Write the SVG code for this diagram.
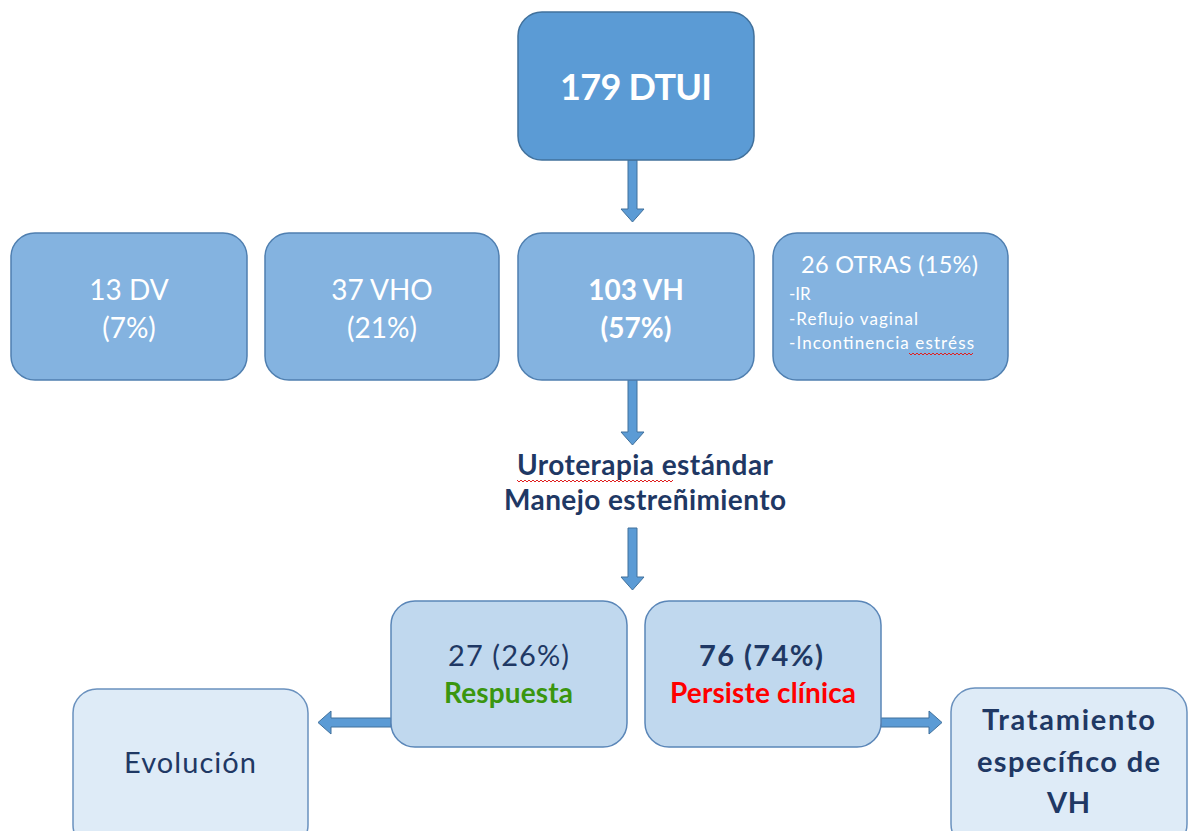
<svg xmlns="http://www.w3.org/2000/svg" width="1190" height="831" viewBox="0 0 1190 831">
<defs>
<style>
text{font-family:Lato,"Open Sans","Liberation Sans",sans-serif;text-anchor:middle}
.top{fill:#5B9BD5;stroke:#41719C;stroke-width:1.5}
.mid{fill:#84B3E0;stroke:#4F7FB0;stroke-width:1.5}
.low{fill:#C0D8EE;stroke:#5A86B8;stroke-width:1.5}
.end{fill:#DEEBF7;stroke:#6A91BE;stroke-width:1.5}
.arrow{fill:#5B9BD5;stroke:#41719C;stroke-width:1}
.w{fill:#FFFFFF}
.navy{fill:#1F3864}
.l{text-anchor:start}
.sq{fill:none;stroke:#E02020;stroke-width:1}
</style>
</defs>
<g id="connectors">
<path class="arrow" d="M628,160 L637,160 L637,209 L644,209 L632.5,222 L621,209 L628,209 Z"/>
<path class="arrow" d="M628,380 L637,380 L637,432 L644,432 L632.5,445 L621,432 L628,432 Z"/>
<path class="arrow" d="M628,528 L637,528 L637,577 L644,577 L632.5,590 L621,577 L628,577 Z"/>
<path class="arrow" d="M391,718 L331,718 L331,711 L318,722.5 L331,734 L331,727 L391,727 Z"/>
<path class="arrow" d="M881,718 L929,718 L929,711 L942,722.5 L929,734 L929,727 L881,727 Z"/>
</g>
<g id="n179">
<rect class="top" x="518" y="12" width="236" height="148" rx="24"/>
<text x="636" y="100" class="w" font-size="36" font-weight="bold" textLength="152">179 DTUI</text>
</g>
<g id="n13dv">
<rect class="mid" x="11" y="233" width="236" height="147" rx="24"/>
<text x="129" y="300" class="w" font-size="28">13 DV</text>
<text x="129" y="338" class="w" font-size="28">(7%)</text>
</g>
<g id="n37vho">
<rect class="mid" x="265" y="233" width="234" height="147" rx="24"/>
<text x="382" y="300" class="w" font-size="28">37 VHO</text>
<text x="382" y="338" class="w" font-size="28">(21%)</text>
</g>
<g id="n103vh">
<rect class="mid" x="518" y="233" width="236" height="147" rx="24"/>
<text x="636" y="300" class="w" font-size="28" font-weight="bold">103 VH</text>
<text x="636" y="338" class="w" font-size="28" font-weight="bold">(57%)</text>
</g>
<g id="n26otras">
<rect class="mid" x="773" y="233" width="235" height="147" rx="24"/>
<text x="889.5" y="273" class="w" font-size="23.5" textLength="177">26 OTRAS (15%)</text>
<text x="789" y="300" class="w l" font-size="17">-IR</text>
<text x="789" y="325" class="w l" font-size="17" textLength="129">-Reflujo vaginal</text>
<text x="789" y="349" class="w l" font-size="17" textLength="185">-Incontinencia estréss</text>
<path class="sq" d="M909,353 l2,2 l2,-2 l2,2 l2,-2 l2,2 l2,-2 l2,2 l2,-2 l2,2 l2,-2 l2,2 l2,-2 l2,2 l2,-2 l2,2 l2,-2 l2,2 l2,-2 l2,2 l2,-2 l2,2 l2,-2 l2,2 l2,-2 l2,2 l2,-2 l2,2 l2,-2 l2,2 l2,-2 l2,2 l2,-2"/>
</g>
<g id="uroterapia">
<text x="645" y="475" class="navy" font-size="28" font-weight="bold" textLength="256">Uroterapia estándar</text>
<text x="645" y="510" class="navy" font-size="28" font-weight="bold" textLength="282">Manejo estreñimiento</text>
<path class="sq" d="M517,480 l2,2 l2,-2 l2,2 l2,-2 l2,2 l2,-2 l2,2 l2,-2 l2,2 l2,-2 l2,2 l2,-2 l2,2 l2,-2 l2,2 l2,-2 l2,2 l2,-2 l2,2 l2,-2 l2,2 l2,-2 l2,2 l2,-2 l2,2 l2,-2 l2,2 l2,-2 l2,2 l2,-2 l2,2 l2,-2 l2,2 l2,-2 l2,2 l2,-2 l2,2 l2,-2 l2,2 l2,-2 l2,2 l2,-2 l2,2 l2,-2 l2,2 l2,-2 l2,2 l2,-2 l2,2 l2,-2 l2,2 l2,-2 l2,2 l2,-2 l2,2 l2,-2 l2,2 l2,-2 l2,2 l2,-2 l2,2 l2,-2 l2,2 l2,-2 l2,2 l2,-2 l2,2 l2,-2 l2,2 l2,-2 l2,2 l2,-2 l2,2 l2,-2 l2,2 l2,-2 l2,2 l2,-2"/>
</g>
<g id="n27">
<rect class="low" x="391" y="601" width="236" height="146" rx="24"/>
<text x="508.5" y="666" class="navy" font-size="29" textLength="121">27 (26%)</text>
<text x="508.5" y="703" fill="#3A960F" font-size="28" font-weight="bold" textLength="129">Respuesta</text>
</g>
<g id="n76">
<rect class="low" x="645" y="601" width="236" height="146" rx="24"/>
<text x="761" y="666" class="navy" font-size="29" font-weight="bold" textLength="124">76 (74%)</text>
<text x="763" y="703" fill="#FF0000" font-size="28" font-weight="bold" textLength="186">Persiste clínica</text>
</g>
<g id="evolucion">
<rect class="end" x="73" y="689" width="235" height="160" rx="24"/>
<text x="190" y="773" class="navy" font-size="29" textLength="132">Evolución</text>
</g>
<g id="tratamiento">
<rect class="end" x="951" y="688" width="236" height="160" rx="24"/>
<text x="1068.5" y="730" class="navy" font-size="29" font-weight="bold" textLength="173">Tratamiento</text>
<text x="1068.5" y="772" class="navy" font-size="29" font-weight="bold" textLength="183">específico de</text>
<text x="1068.5" y="813" class="navy" font-size="29" font-weight="bold" textLength="43">VH</text>
</g>
</svg>
